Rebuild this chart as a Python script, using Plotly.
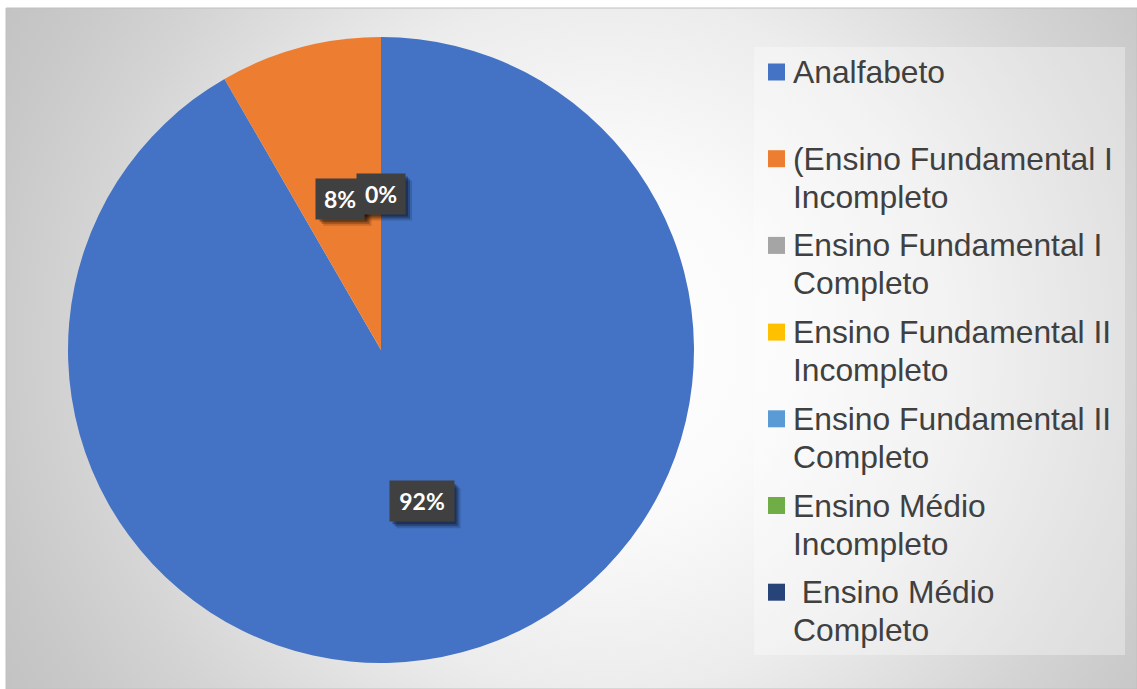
import base64
import math
import plotly.graph_objects as go

# ---------------- data ----------------
labels = [
    "Analfabeto",
    "(Ensino Fundamental I Incompleto",
    "Ensino Fundamental I Completo",
    "Ensino Fundamental II Incompleto",
    "Ensino Fundamental II Completo",
    "Ensino Médio Incompleto",
    " Ensino Médio Completo",
]
legend_lines = [
    ["Analfabeto"],
    ["(Ensino Fundamental I", "Incompleto"],
    ["Ensino Fundamental I", "Completo"],
    ["Ensino Fundamental II", "Incompleto"],
    ["Ensino Fundamental II", "Completo"],
    ["Ensino Médio", "Incompleto"],
    [" Ensino Médio", "Completo"],
]
values = [11, 1, 0, 0, 0, 0, 0]
colors = ["#4472C4", "#ED7D31", "#A5A5A5", "#FFC000", "#5B9BD5", "#70AD47", "#264478"]

# ---------------- geometry / style ----------------
W, H = 1137, 689
CX, CY, R = 381, 350, 313


def px(x):
    return x / W


def py(y):
    return 1 - y / H


# radial gradient background as SVG data URI
svg = f"""<svg xmlns='http://www.w3.org/2000/svg' width='{W-6}' height='{H-8}' viewBox='0 0 {W-6} {H-8}' preserveAspectRatio='none'>
<defs><radialGradient id='g' gradientUnits='userSpaceOnUse' cx='600' cy='335' r='700'>
<stop offset='0' stop-color='#ffffff'/>
<stop offset='0.25' stop-color='#fafafa'/>
<stop offset='0.5' stop-color='#ececec'/>
<stop offset='0.75' stop-color='#d4d4d4'/>
<stop offset='0.9' stop-color='#c8c8c8'/>
<stop offset='1' stop-color='#c2c2c2'/>
</radialGradient></defs>
<rect x='0' y='0' width='{W-6}' height='{H-8}' fill='url(#g)'/>
</svg>"""
svg_uri = "data:image/svg+xml;base64," + base64.b64encode(svg.encode()).decode()

fig = go.Figure()
fig.add_trace(go.Pie(
    labels=labels,
    values=values,
    marker=dict(colors=colors, line=dict(width=0)),
    sort=False,
    direction="clockwise",
    rotation=0,
    textinfo="none",
    showlegend=False,
    domain=dict(x=[px(CX - R), px(CX + R)], y=[py(CY + R), py(CY - R)]),
    hoverinfo="label+percent",
))

annotations = []
shapes = []

# data labels (dark boxes with drop shadow); coincident labels drawn once
total = sum(values)
cum = 0
seen = set()
for v in values:
    theta = 2 * math.pi * (cum + v / 2) / total
    cum += v
    lx = CX + 0.5 * R * math.sin(theta)
    ly = CY - 0.5 * R * math.cos(theta)
    txt = f"{round(v / total * 100)}%"
    key = (round(lx), round(ly), txt)
    if key in seen:
        continue
    seen.add(key)
    bw, bh = 16 + 16 * len(txt), 40
    for off, alpha in [(7, 0.15), (5, 0.25), (3, 0.3)]:
        shapes.append(dict(type="rect", xref="paper", yref="paper",
                           x0=px(lx - bw / 2 + off), x1=px(lx + bw / 2 + off),
                           y0=py(ly + bh / 2 + off), y1=py(ly - bh / 2 + off),
                           fillcolor=f"rgba(0,0,0,{alpha})", line=dict(width=0)))
    annotations.append(dict(
        x=px(lx), y=py(ly), xref="paper", yref="paper",
        text=f"<b>{txt}</b>", showarrow=False,
        font=dict(family="Lato, Open Sans, sans-serif", size=23, color="white"),
        bgcolor="#404040", width=bw, height=bh, borderpad=0,
        xanchor="center", yanchor="middle",
    ))

# legend box
shapes.append(dict(type="rect", xref="paper", yref="paper",
                   x0=px(754), x1=px(1125), y0=py(655), y1=py(47),
                   fillcolor="rgba(255,255,255,0.33)", line=dict(width=0), layer="below"))
# chart border
shapes.append(dict(type="rect", xref="paper", yref="paper",
                   x0=px(6), x1=px(1137), y0=py(689), y1=py(8),
                   fillcolor="rgba(0,0,0,0)", line=dict(width=1, color="#c0c0c0"), layer="below"))

# manual legend
row0, row_gap, line_gap = 72, 86.7, 38
for i, (lines, c) in enumerate(zip(legend_lines, colors)):
    yc = row0 + i * row_gap
    shapes.append(dict(type="rect", xref="paper", yref="paper",
                       x0=px(768), x1=px(785), y0=py(yc + 8.5), y1=py(yc - 8.5),
                       fillcolor=c, line=dict(width=0)))
    for j, t in enumerate(lines):
        if t.startswith(" "):
            t = "\u00a0" + t[1:]
        annotations.append(dict(
            x=px(791), y=py(yc + j * line_gap), xref="paper", yref="paper",
            text=t, showarrow=False, xanchor="left", yanchor="middle",
            font=dict(family="Liberation Sans, Arial, sans-serif", size=31.8, color="#404040"),
        ))

fig.update_layout(
    width=W, height=H,
    margin=dict(l=0, r=0, t=0, b=0),
    paper_bgcolor="white",
    plot_bgcolor="rgba(0,0,0,0)",
    images=[dict(source=svg_uri, xref="paper", yref="paper",
                 x=px(6), y=py(8), sizex=px(W - 6), sizey=(H - 8) / H,
                 sizing="stretch", xanchor="left", yanchor="top", layer="below")],
    shapes=shapes,
    annotations=annotations,
)

fig.write_html("out.html", config={"displayModeBar": False},
               post_script="document.body.style.margin='0';document.body.style.overflow='hidden';")
